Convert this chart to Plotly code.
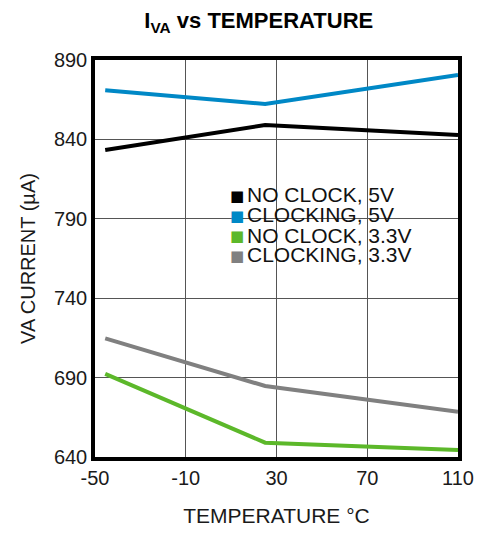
import plotly.graph_objects as go

temps = [-45.5, 25, 110]
no_clock_5v = [833.3, 849.0, 842.8]
clocking_5v = [871.0, 862.3, 880.6]
no_clock_33v = [692.3, 649.0, 644.4]
clocking_33v = [714.7, 684.7, 668.5]

names = ["NO CLOCK, 5V", "CLOCKING, 5V", "NO CLOCK, 3.3V", "CLOCKING, 3.3V"]
colors = ["#000000", "#0088c6", "#5cb82a", "#808080"]
series = [no_clock_5v, clocking_5v, no_clock_33v, clocking_33v]

x_ticks = [-50, -10, 30, 70, 110]
y_ticks = [640, 690, 740, 790, 840, 890]

fig = go.Figure()
for n, c, s in zip(names, colors, series):
    fig.add_trace(go.Scatter(x=temps, y=s, mode="lines", line=dict(color=c, width=4),
                             showlegend=False, name=n))

# legend rows (tight line spacing, as in the reference)
legend_y = [0.660, 0.610, 0.559, 0.509]
for n, c, ly in zip(names, colors, legend_y):
    fig.add_annotation(
        xref="paper", yref="paper", x=0.391, y=ly - 0.002, xanchor="center", yanchor="middle",
        showarrow=False, text="■", font=dict(size=15, color=c,
                                             family="DejaVu Sans, sans-serif"),
    )
    fig.add_annotation(
        xref="paper", yref="paper", x=0.414, y=ly, xanchor="left", yanchor="middle",
        showarrow=False, text=n, font=dict(size=21, color="#111111"),
    )

font_family = "Liberation Sans, Arial, sans-serif"
fig.update_layout(
    width=486, height=534,
    margin=dict(l=87, r=36, t=52, b=85),
    paper_bgcolor="white", plot_bgcolor="white",
    font=dict(family=font_family, size=20, color="#1a1a1a"),
    title=dict(text="<b>I<sub>VA</sub> vs TEMPERATURE</b>", x=0.516, xanchor="center",
               xref="container", y=0.977, yanchor="middle", font=dict(size=22, color="#000000")),
    showlegend=False,
)
fig.update_xaxes(range=[-50, 110], tickvals=x_ticks, ticktext=[str(v) for v in x_ticks],
                 showgrid=True, gridcolor="#555555", gridwidth=1,
                 showline=True, linecolor="black", linewidth=3.5, mirror=True,
                 ticks="", zeroline=False, tickfont=dict(size=20),
                 title=dict(text="TEMPERATURE °C", standoff=22, font=dict(size=21)))
fig.update_yaxes(range=[640, 890], tickvals=y_ticks, ticktext=[str(v) for v in y_ticks],
                 showgrid=True, gridcolor="#555555", gridwidth=1,
                 showline=True, linecolor="black", linewidth=3.5, mirror=True,
                 ticks="", zeroline=False, tickfont=dict(size=20),
                 title=dict(text="VA CURRENT (µA)", standoff=14, font=dict(size=20)))

fig.write_html("out.html")
